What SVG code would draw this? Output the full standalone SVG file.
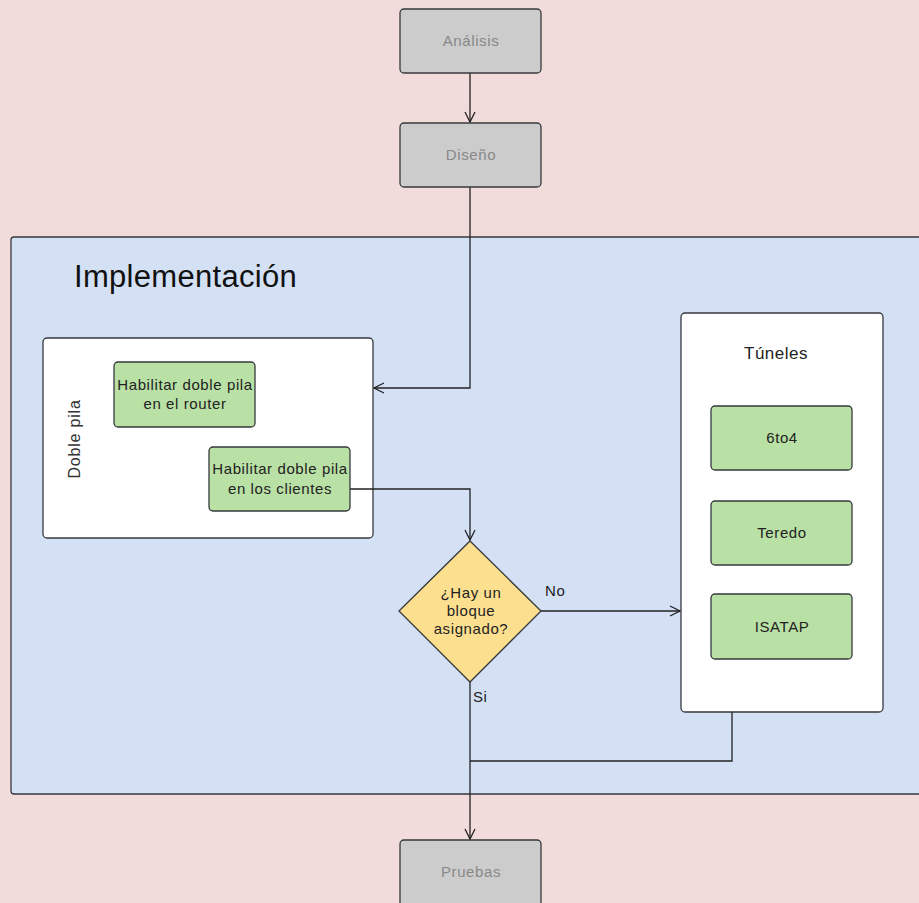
<svg xmlns="http://www.w3.org/2000/svg" width="919" height="903" viewBox="0 0 919 903">
<defs>
<style>
.box{stroke:#36393d;stroke-width:1.3}
.gray{fill:#cccccc}
.green{fill:#b9e0a5}
.white{fill:#ffffff}
.t{font-family:"Liberation Sans",Arial,sans-serif;font-size:15px;letter-spacing:0.6px;text-anchor:middle;fill:#222}
.tg{font-family:"Liberation Sans",Arial,sans-serif;font-size:15px;letter-spacing:0.6px;text-anchor:middle;fill:#888}
.edge{fill:none;stroke:#222;stroke-width:1.3}
</style>
<marker id="arr" viewBox="0 0 12 12" refX="11" refY="6" markerWidth="12" markerHeight="12" markerUnits="userSpaceOnUse" orient="auto">
<path d="M1,1 L11,6 L1,11" fill="none" stroke="#222" stroke-width="1.3"/>
</marker>
</defs>
<rect x="0" y="0" width="919" height="903" fill="#f2dcdb"/>
<g id="implementacion">
<rect class="box" x="11" y="237" width="920" height="557" rx="3" fill="#d4e1f5"/>
<text x="74" y="287" font-family="'Liberation Sans',Arial,sans-serif" font-size="31" letter-spacing="0.3" fill="#111">Implementación</text>
</g>
<g id="doble-pila">
<rect class="box white" x="43" y="338" width="330" height="200" rx="4"/>
<text class="tg" transform="translate(80,439) rotate(-90)" style="fill:#333;font-size:16px;letter-spacing:0.8px">Doble pila</text>
</g>
<g id="tuneles">
<rect class="box white" x="681" y="313" width="202" height="399" rx="4"/>
<text class="t" x="776" y="359" style="font-size:17px;letter-spacing:0.5px">Túneles</text>
</g>
<g id="connectors">
<path class="edge" d="M470,73 V122" marker-end="url(#arr)"/>
<path class="edge" d="M470,187 V388 H374" marker-end="url(#arr)"/>
<path class="edge" d="M350,489 H470 V540" marker-end="url(#arr)"/>
<path class="edge" d="M541,611 H680" marker-end="url(#arr)"/>
<path class="edge" d="M470,682 V839" marker-end="url(#arr)"/>
<path class="edge" d="M732,712 V761 H470"/>
<text class="t" x="545" y="596" style="text-anchor:start">No</text>
<text class="t" x="473" y="702" style="text-anchor:start">Si</text>
</g>
<g id="analisis">
<rect class="box gray" x="400" y="9" width="141" height="64" rx="4"/>
<text class="tg" x="471" y="46">Análisis</text>
</g>
<g id="diseno">
<rect class="box gray" x="400" y="123" width="141" height="64" rx="4"/>
<text class="tg" x="471" y="160">Diseño</text>
</g>
<g id="router">
<rect class="box green" x="114" y="362" width="141" height="65" rx="4"/>
<text class="t" x="185" y="390">Habilitar doble pila</text>
<text class="t" x="185" y="409">en el router</text>
</g>
<g id="clientes">
<rect class="box green" x="209" y="447" width="141" height="64" rx="4"/>
<text class="t" x="280" y="474">Habilitar doble pila</text>
<text class="t" x="280" y="494">en los clientes</text>
</g>
<g id="decision">
<path class="box" d="M470,541 L541,611 L470,682 L399,611 Z" fill="#fde08f"/>
<text class="t" x="471" y="598">¿Hay un</text>
<text class="t" x="471" y="616">bloque</text>
<text class="t" x="471" y="634">asignado?</text>
</g>
<g id="6to4">
<rect class="box green" x="711" y="406" width="141" height="64" rx="4"/>
<text class="t" x="782" y="443">6to4</text>
</g>
<g id="teredo">
<rect class="box green" x="711" y="501" width="141" height="64" rx="4"/>
<text class="t" x="782" y="538">Teredo</text>
</g>
<g id="isatap">
<rect class="box green" x="711" y="594" width="141" height="65" rx="4"/>
<text class="t" x="782" y="632">ISATAP</text>
</g>
<g id="pruebas">
<rect class="box gray" x="400" y="840" width="141" height="70" rx="4"/>
<text class="tg" x="471" y="877">Pruebas</text>
</g>
</svg>
